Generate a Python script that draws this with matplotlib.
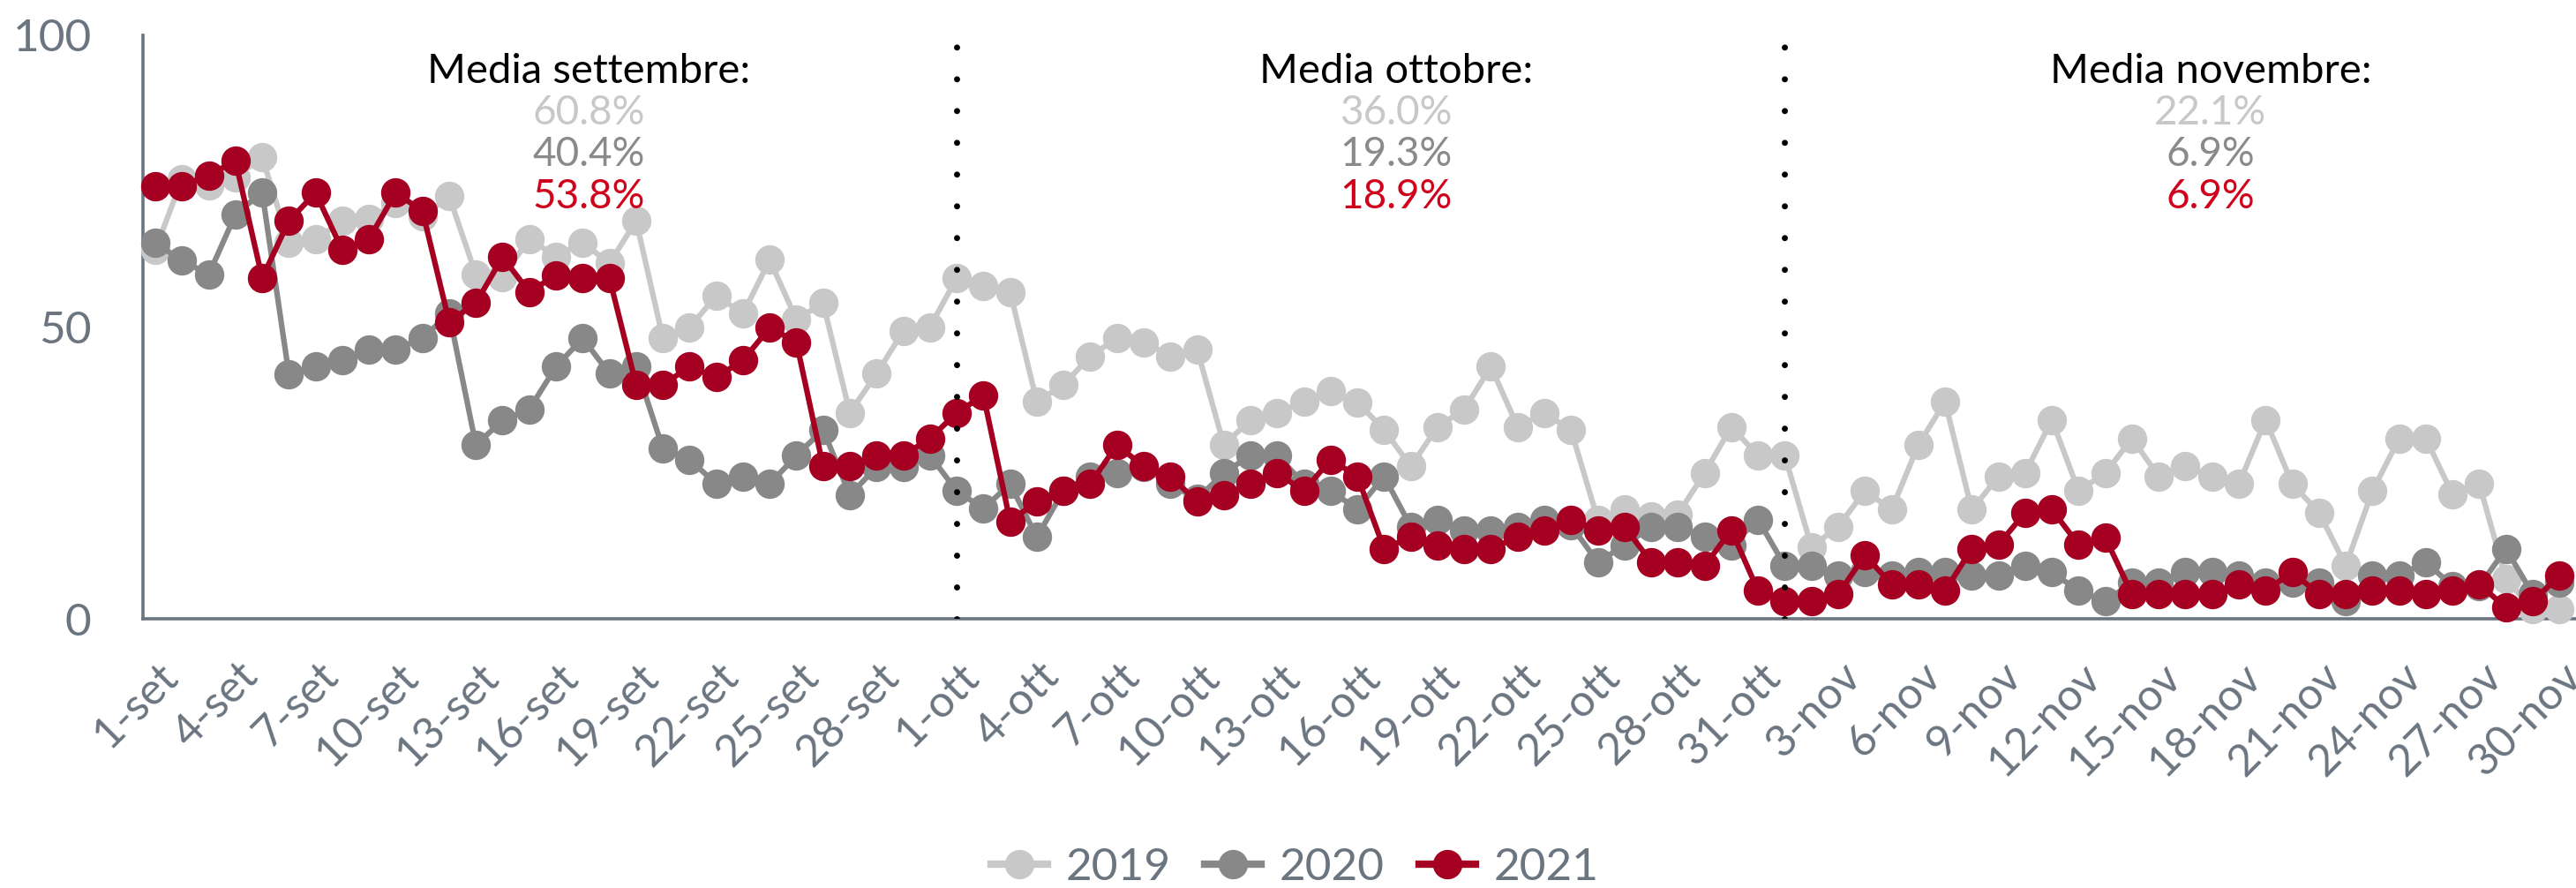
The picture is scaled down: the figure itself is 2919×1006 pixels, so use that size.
import matplotlib
matplotlib.use("Agg")
import matplotlib.pyplot as plt
from matplotlib.transforms import ScaledTranslation
from matplotlib.lines import Line2D
import numpy as np

# ---------------- data ----------------
days = ([f"{d}-set" for d in range(1, 31)] +
        [f"{d}-ott" for d in range(1, 32)] +
        [f"{d}-nov" for d in range(1, 31)])

v2019 = [63.2, 75.4, 74.3, 75.7, 79.1, 64.4, 65.0, 68.2, 68.5, 71.3,
         69.0, 72.4, 59.0, 58.6, 65.1, 62.1, 64.5, 60.9, 68.2, 48.1,
         49.9, 55.4, 52.3, 61.5, 51.3, 54.1, 35.3, 42.0, 49.3, 50.0,
         58.4, 57.1, 56.0, 37.2, 40.1, 45.0, 48.1, 47.4, 45.0, 46.2,
         29.8, 34.1, 35.3, 37.2, 39.0, 37.1, 32.4, 26.1, 32.9, 35.9,
         43.2, 32.9, 35.3, 32.3, 17.0, 18.7, 17.6, 17.9, 25.0, 32.9,
         28.0, 28.0, 12.3, 15.8, 21.9, 18.7, 29.8, 37.2, 18.7, 24.4,
         25.0, 34.1, 21.9, 25.0, 30.9, 24.4, 26.1, 24.4, 23.1, 34.1,
         23.1, 18.2, 9.1, 21.9, 30.9, 30.9, 21.3, 23.1, 6.8, 1.6,
         1.6]

v2020 = [64.4, 61.4, 59.0, 69.3, 73.1, 41.9, 43.2, 44.3, 46.2, 46.2,
         48.1, 52.3, 29.8, 34.0, 35.9, 43.2, 48.1, 42.0, 43.2, 29.2,
         27.3, 23.1, 24.4, 23.1, 28.0, 32.4, 21.2, 26.0, 26.0, 28.0,
         21.9, 18.9, 23.1, 14.0, 22.0, 24.4, 25.0, 26.0, 23.1, 20.5,
         25.0, 28.0, 28.0, 23.1, 21.9, 18.8, 24.4, 15.8, 17.0, 15.2,
         15.2, 15.8, 17.0, 16.0, 9.7, 12.6, 15.8, 15.8, 14.1, 12.6,
         17.0, 9.1, 9.1, 7.4, 8.0, 7.4, 8.0, 8.0, 7.4, 7.4,
         9.1, 8.0, 4.8, 3.0, 6.2, 6.2, 8.0, 8.0, 7.4, 6.2,
         6.2, 6.2, 3.0, 7.4, 7.4, 9.7, 5.6, 5.6, 12.0, 4.2,
         6.2]

v2021 = [74.2, 74.2, 76.0, 78.5, 58.4, 68.2, 73.0, 63.2, 65.1, 73.0,
         69.9, 50.9, 54.1, 62.0, 56.0, 58.9, 58.4, 58.4, 40.1, 40.1,
         43.2, 41.4, 44.3, 49.9, 47.4, 26.1, 26.1, 28.0, 28.0, 30.9,
         35.3, 38.3, 16.7, 20.1, 21.9, 23.1, 29.8, 26.1, 24.4, 20.1,
         21.2, 23.1, 25.0, 21.9, 27.3, 24.4, 12.0, 14.0, 12.6, 12.0,
         12.0, 14.0, 15.2, 17.0, 15.2, 15.8, 9.7, 9.7, 9.1, 15.2,
         4.8, 3.0, 3.0, 4.2, 10.9, 5.9, 5.9, 4.8, 12.0, 12.7,
         18.2, 18.7, 12.7, 13.9, 4.2, 4.2, 4.2, 4.2, 5.9, 4.8,
         8.0, 4.2, 4.2, 4.8, 4.8, 4.2, 4.8, 5.9, 1.9, 3.0,
         7.4]

series_names = ["2019", "2020", "2021"]
month_titles = ["Media settembre:", "Media ottobre:", "Media novembre:"]
mean_2019 = ["60.8%", "36.0%", "22.1%"]
mean_2020 = ["40.4%", "19.3%", "6.9%"]
mean_2021 = ["53.8%", "18.9%", "6.9%"]
month_starts = ["1-ott", "1-nov"]

# ---------------- style ----------------
plt.rcParams["font.family"] = ["Lato", "DejaVu Sans"]
AXIS_GRAY = "#6B7580"
line_colors = ["#C8C8C8", "#888888", "#A50021"]
text_colors = ["#C8C8C8", "#8A8A8A", "#D0021B"]

W, H = 2919, 1006
fig = plt.figure(figsize=(W / 100, H / 100), dpi=100)
ax = fig.add_axes([162 / W, 1 - 701 / H, (W - 162) / W, (701 - 40) / H])

x = np.arange(len(days))
for vals, col, name, z in zip([v2019, v2020, v2021], line_colors, series_names, [3, 4, 5]):
    ax.plot(x, vals, color=col, lw=4.5, marker="o", ms=23, mfc=col, mec=col,
            label=name, zorder=z, clip_on=False, solid_joinstyle="round")

ax.set_xlim(-0.4625, 90.62)
ax.set_ylim(0, 100)

# month separators
for m in month_starts:
    ax.axvline(days.index(m), ymin=0, ymax=1, color="black", lw=5,
               linestyle=(0, (0.001, 5.18)), dash_capstyle="round", zorder=6)

# spines
for s in ["top", "right"]:
    ax.spines[s].set_visible(False)
for s in ["left", "bottom"]:
    ax.spines[s].set_color(AXIS_GRAY)
    ax.spines[s].set_linewidth(2.6)

# ticks
ax.set_yticks([0, 50, 100])
ax.set_yticklabels(["0", "50", "100"])
ax.tick_params(axis="y", length=0, pad=42, labelsize=37, labelcolor=AXIS_GRAY)
ax.set_xticks(x[::3])
ax.set_xticklabels(days[::3])
ax.tick_params(axis="x", length=0, pad=30, labelsize=36, labelcolor=AXIS_GRAY)
offset = ScaledTranslation(2 / 100, 0, fig.dpi_scale_trans)
for lab in ax.get_xticklabels():
    lab.set_rotation(45)
    lab.set_ha("right")
    lab.set_va("top")
    lab.set_rotation_mode("anchor")
    lab.set_transform(lab.get_transform() + offset)

# month average annotations
centers = [16.22, 46.45, 76.94]
for i, xc in enumerate(centers):
    ax.text(xc, 91.8, month_titles[i], ha="center", va="baseline", fontsize=34,
            color="black", zorder=7)
    for j, vals in enumerate([mean_2019, mean_2020, mean_2021]):
        ax.text(xc, 84.7 - 7.15 * j, vals[i], ha="center", va="baseline",
                fontsize=33, color=text_colors[j], zorder=7)

# legend
handles = [Line2D([0], [0], color=c, lw=6, marker="o", ms=23, mfc=c, mec=c)
           for c in line_colors]
fig.legend(handles, series_names, loc="center", bbox_to_anchor=(1467 / W, 1 - 983 / H),
           ncol=3, frameon=False, fontsize=37, labelcolor=AXIS_GRAY,
           handlelength=1.25, handletextpad=0.4, columnspacing=0.75)

fig.savefig("out.png", dpi=100)
